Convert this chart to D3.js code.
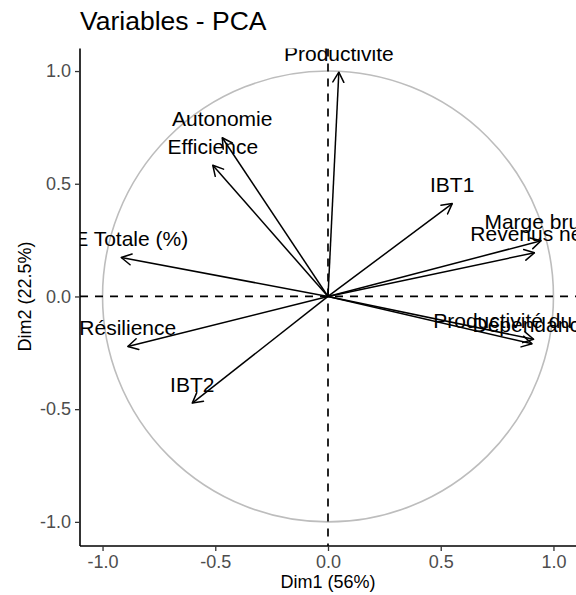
<!DOCTYPE html>
<html>
<head>
<meta charset="utf-8">
<script src="https://cdn.jsdelivr.net/npm/d3@7"></script>
<style>
  html, body { margin: 0; padding: 0; background: #fff; }
  svg { display: block; font-family: "Liberation Sans", Arial, sans-serif; }
</style>
</head>
<body>
<svg id="chart" width="576" height="595"></svg>
<script>
// ---- data ----
const variables = ["Productivite", "Autonomie", "Efficience", "IAE Totale (%)", "Résilience",
                   "IBT2", "IBT1", "Marge brute", "Revenus nets", "Productivité du travail", "Dépendance"];
const dim1 = [0.048, -0.469, -0.511, -0.917, -0.888, -0.602, 0.551, 0.945, 0.916, 0.912, 0.905];
const dim2 = [0.995, 0.704, 0.582, 0.173, -0.222, -0.473, 0.412, 0.247, 0.194, -0.190, -0.210];
const tickValues = [-1.0, -0.5, 0.0, 0.5, 1.0];
const title = "Variables - PCA";
const xTitle = "Dim1 (56%)";
const yTitle = "Dim2 (22.5%)";

// ---- layout ----
const svg = d3.select("#chart");
const panel = { left: 80, right: 576, top: 48.5, bottom: 546 };
const x = d3.scaleLinear().domain([-1.1, 1.1]).range([panel.left, panel.right]);
const y = d3.scaleLinear().domain([-1.107, 1.1]).range([panel.bottom, panel.top]);

svg.append("defs").append("clipPath").attr("id", "clip")
  .append("rect")
  .attr("x", panel.left).attr("y", panel.top)
  .attr("width", panel.right - panel.left).attr("height", panel.bottom - panel.top);

svg.select("defs").append("marker")
  .attr("id", "arrow")
  .attr("markerUnits", "userSpaceOnUse")
  .attr("viewBox", "-1 -7 12 14")
  .attr("refX", 10).attr("refY", 0)
  .attr("markerWidth", 12).attr("markerHeight", 14)
  .attr("orient", "auto")
  .append("path")
  .attr("d", "M0,-5.5L10,0L0,5.5")
  .attr("fill", "none").attr("stroke", "#000").attr("stroke-width", 1.5)
  .attr("stroke-linecap", "round").attr("stroke-linejoin", "round");

const g = svg.append("g").attr("clip-path", "url(#clip)");

// correlation circle
g.append("circle")
  .attr("cx", x(0)).attr("cy", y(0))
  .attr("r", x(1) - x(0))
  .attr("fill", "none").attr("stroke", "#bdbdbd").attr("stroke-width", 1.6);

// reference dashed lines
g.append("line")
  .attr("x1", panel.left).attr("x2", panel.right).attr("y1", y(0)).attr("y2", y(0))
  .attr("stroke", "#000").attr("stroke-width", 1.7).attr("stroke-dasharray", "8,7");
g.append("line")
  .attr("x1", x(0)).attr("x2", x(0)).attr("y1", panel.top).attr("y2", panel.bottom)
  .attr("stroke", "#000").attr("stroke-width", 1.7).attr("stroke-dasharray", "8,7");

const data = variables.map((name, i) => ({ name, d1: dim1[i], d2: dim2[i] }));

// arrows
g.selectAll("line.arrow").data(data).enter().append("line")
  .attr("class", "arrow")
  .attr("x1", x(0)).attr("y1", y(0))
  .attr("x2", d => x(d.d1)).attr("y2", d => y(d.d2))
  .attr("stroke", "#000").attr("stroke-width", 1.5)
  .attr("marker-end", "url(#arrow)");

// labels
g.selectAll("text.lab").data(data).enter().append("text")
  .attr("class", "lab")
  .attr("x", d => x(d.d1)).attr("y", d => y(d.d2))
  .attr("dy", "-0.55em")
  .attr("text-anchor", "middle")
  .attr("font-size", 21)
  .attr("fill", "#000")
  .text(d => d.name);

// axes
const fmt = d => d.toFixed(1);
const xAxis = svg.append("g")
  .attr("transform", `translate(0,${panel.bottom})`)
  .call(d3.axisBottom(x).tickValues(tickValues).tickFormat(fmt).tickSize(5).tickPadding(4));
const yAxis = svg.append("g")
  .attr("transform", `translate(${panel.left},0)`)
  .call(d3.axisLeft(y).tickValues(tickValues).tickFormat(fmt).tickSize(5).tickPadding(4));

[xAxis, yAxis].forEach(a => {
  a.select(".domain").attr("stroke", "#000").attr("stroke-width", 1.6);
  a.selectAll(".tick line").attr("stroke", "#333").attr("stroke-width", 1.3);
  a.selectAll(".tick text").attr("fill", "#4d4d4d").attr("font-size", 18)
    .attr("font-family", "'Liberation Sans', Arial, sans-serif");
});
xAxis.select(".domain").attr("d", `M${panel.left},0H${panel.right}`);
yAxis.select(".domain").attr("d", `M0,${panel.top}V${panel.bottom}`);

// titles
svg.append("text")
  .attr("x", panel.left).attr("y", 30)
  .attr("font-size", 26.5).attr("fill", "#000")
  .text(title);

svg.append("text")
  .attr("x", (panel.left + panel.right) / 2).attr("y", 588)
  .attr("text-anchor", "middle").attr("font-size", 18).attr("fill", "#000")
  .text(xTitle);

svg.append("text")
  .attr("transform", `translate(31,${y(0)}) rotate(-90)`)
  .attr("text-anchor", "middle").attr("font-size", 18).attr("fill", "#000")
  .text(yTitle);
</script>
</body>
</html>
